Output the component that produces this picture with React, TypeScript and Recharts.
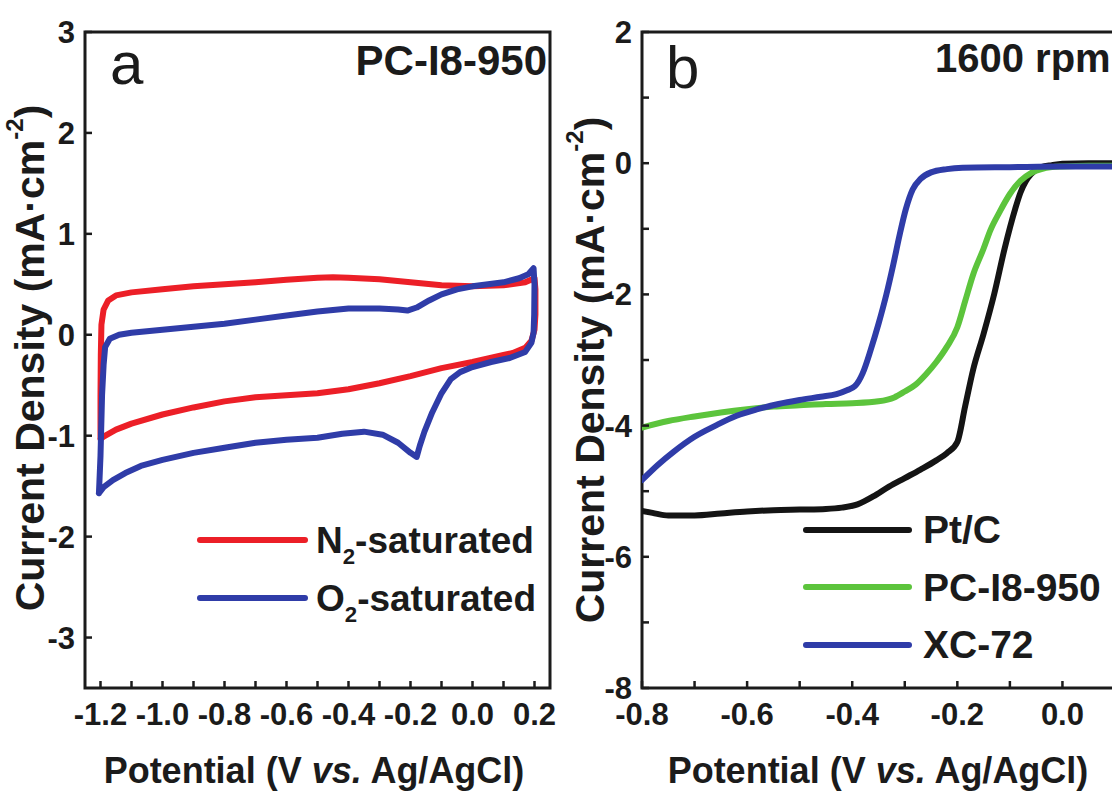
import React from 'react';
import { LineChart, Line, XAxis, YAxis, ReferenceArea, Legend } from 'recharts';

const FONT = '"Liberation Sans", Arial, Helvetica, sans-serif';
const INK = '#1b1b1b';

// ---- (a) CV in N2 / O2 saturated electrolyte ----
const cvXTicks = [-1.2, -1.1, -1.0, -0.9, -0.8, -0.7, -0.6, -0.5, -0.4, -0.3, -0.2, -0.1, 0.0, 0.1, 0.2];
const cvYTicks = [-3, -2, -1, 0, 1, 2, 3];

// [potential, current density], traced as a closed loop
const cvN2 = [
  [-1.2, -1.03], [-1.2, -0.6], [-1.199, -0.2], [-1.197, 0.1], [-1.19, 0.25], [-1.175, 0.34],
  [-1.15, 0.39], [-1.1, 0.42], [-1.0, 0.45], [-0.9, 0.48], [-0.8, 0.5], [-0.7, 0.52],
  [-0.6, 0.545], [-0.5, 0.565], [-0.45, 0.57], [-0.4, 0.565], [-0.3, 0.55], [-0.2, 0.52],
  [-0.1, 0.49], [0.0, 0.48], [0.1, 0.49], [0.17, 0.52], [0.2, 0.56], [0.203, 0.45],
  [0.203, 0.2], [0.2, 0.05], [0.19, -0.06], [0.17, -0.13], [0.13, -0.18], [0.1, -0.2],
  [0.0, -0.27], [-0.1, -0.33], [-0.2, -0.41], [-0.3, -0.48], [-0.4, -0.54], [-0.5, -0.58],
  [-0.6, -0.6], [-0.7, -0.62], [-0.8, -0.66], [-0.9, -0.72], [-1.0, -0.79], [-1.1, -0.88],
  [-1.15, -0.94], [-1.19, -1.01], [-1.2, -1.03],
];

const cvO2 = [
  [-1.205, -1.57], [-1.2, -1.2], [-1.195, -0.6], [-1.19, -0.3], [-1.185, -0.12], [-1.17, -0.04],
  [-1.14, 0.0], [-1.1, 0.02], [-1.0, 0.05], [-0.9, 0.08], [-0.8, 0.11], [-0.7, 0.15],
  [-0.6, 0.19], [-0.5, 0.23], [-0.4, 0.26], [-0.3, 0.26], [-0.24, 0.25], [-0.21, 0.24],
  [-0.18, 0.27], [-0.14, 0.34], [-0.1, 0.4], [-0.05, 0.45], [0.0, 0.48], [0.05, 0.5],
  [0.1, 0.52], [0.15, 0.56], [0.18, 0.6], [0.197, 0.66], [0.2, 0.5], [0.199, 0.2],
  [0.197, 0.02], [0.19, -0.08], [0.17, -0.17], [0.12, -0.23], [0.06, -0.27], [0.0, -0.32],
  [-0.04, -0.37], [-0.07, -0.44], [-0.1, -0.58], [-0.13, -0.77], [-0.155, -0.96], [-0.17, -1.1],
  [-0.18, -1.21], [-0.2, -1.17], [-0.24, -1.07], [-0.29, -0.99], [-0.35, -0.96], [-0.42, -0.98],
  [-0.5, -1.02], [-0.6, -1.04], [-0.7, -1.07], [-0.8, -1.12], [-0.9, -1.17], [-1.0, -1.24],
  [-1.07, -1.3], [-1.12, -1.37], [-1.16, -1.44], [-1.19, -1.51], [-1.205, -1.57],
];

// ---- (b) LSV at 1600 rpm ----
const lsvXTicks = [-0.8, -0.7, -0.6, -0.5, -0.4, -0.3, -0.2, -0.1, 0.0, 0.1];
const lsvYTicks = [-8, -7, -6, -5, -4, -3, -2, -1, 0, 1, 2];

const lsvPtC = [
  [-0.8, -5.3], [-0.78, -5.33], [-0.75, -5.37], [-0.7, -5.37], [-0.65, -5.34], [-0.6, -5.31],
  [-0.55, -5.29], [-0.5, -5.28], [-0.45, -5.27], [-0.42, -5.25], [-0.39, -5.2], [-0.36, -5.08],
  [-0.33, -4.93], [-0.3, -4.8], [-0.27, -4.67], [-0.24, -4.53], [-0.22, -4.42], [-0.2, -4.25],
  [-0.185, -3.7], [-0.17, -3.15], [-0.15, -2.6], [-0.13, -2.0], [-0.11, -1.3], [-0.09, -0.7],
  [-0.08, -0.45], [-0.07, -0.28], [-0.06, -0.17], [-0.05, -0.1], [-0.04, -0.06], [-0.02, -0.03],
  [0.0, -0.01], [0.05, 0.0], [0.1, 0.0],
];

const lsvPC = [
  [-0.8, -4.03], [-0.75, -3.93], [-0.7, -3.86], [-0.65, -3.8], [-0.6, -3.75], [-0.55, -3.71],
  [-0.5, -3.69], [-0.45, -3.67], [-0.4, -3.66], [-0.35, -3.63], [-0.32, -3.57], [-0.3, -3.48],
  [-0.28, -3.38], [-0.26, -3.22], [-0.24, -3.03], [-0.22, -2.8], [-0.2, -2.5], [-0.185, -2.1],
  [-0.17, -1.7], [-0.15, -1.3], [-0.137, -1.02], [-0.12, -0.75], [-0.1, -0.47], [-0.08, -0.27],
  [-0.06, -0.15], [-0.04, -0.09], [-0.02, -0.06], [0.0, -0.05], [0.05, -0.04], [0.1, -0.04],
];

const lsvXC = [
  [-0.8, -4.83], [-0.77, -4.6], [-0.74, -4.4], [-0.7, -4.17], [-0.66, -4.0], [-0.62, -3.85],
  [-0.58, -3.75], [-0.54, -3.67], [-0.5, -3.61], [-0.46, -3.56], [-0.43, -3.52], [-0.41, -3.46],
  [-0.395, -3.4], [-0.38, -3.2], [-0.365, -2.85], [-0.35, -2.45], [-0.335, -2.0], [-0.322, -1.55],
  [-0.31, -1.1], [-0.298, -0.7], [-0.285, -0.4], [-0.27, -0.24], [-0.25, -0.14], [-0.22, -0.09],
  [-0.19, -0.07], [-0.1, -0.06], [0.0, -0.05], [0.1, -0.05],
];

const RED = '#ec1f27';
const BLUE = '#2f3ca8';
const GREEN = '#5cc43c';
const BLACK = '#141414';

const cvSeries = [
  { name: 'N2-saturated', color: RED, points: cvN2 },
  { name: 'O2-saturated', color: BLUE, points: cvO2 },
];
const lsvSeries = [
  { name: 'Pt/C', color: BLACK, points: lsvPtC },
  { name: 'PC-I8-950', color: GREEN, points: lsvPC },
  { name: 'XC-72', color: BLUE, points: lsvXC },
];

const toPts = (pairs: number[][]) => pairs.map(([x, y]) => ({ x, y }));

const tickText = { fontSize: 31, fontWeight: 700, fill: INK, fontFamily: FONT };
const tickLine = { stroke: INK, strokeWidth: 2.5 };

const fmtTenths = (v: number) => (Math.round(v * 10) % 2 === 0 ? v.toFixed(1) : '');
const fmtEven = (v: number) => (Math.round(v) % 2 === 0 ? String(v) : '');

function XTitle({ x, y }: { x: number; y: number }) {
  return (
    <text x={x} y={y} textAnchor="middle" fontFamily={FONT} fontWeight={700} fontSize={36} fill={INK}>
      Potential (V{' '}
      <tspan fontStyle="italic">vs.</tspan> Ag/AgCl)
    </text>
  );
}

function YTitle({ x, y }: { x: number; y: number }) {
  return (
    <text
      x={x}
      y={y}
      transform={`rotate(-90 ${x} ${y})`}
      textAnchor="middle"
      dominantBaseline="central"
      fontFamily={FONT}
      fontWeight={700}
      fontSize={41}
      fill={INK}
    >
      Current Density (mA·cm
      <tspan dy={-16} fontSize={24}>-2</tspan>
      <tspan dy={16}>)</tspan>
    </text>
  );
}

function PanelTag({ letter, lx, ly, note, nx, ny, anchor, noteSize }: any) {
  return (
    <g fontFamily={FONT} fill={INK}>
      <text x={lx} y={ly} fontSize={60}>{letter}</text>
      <text x={nx} y={ny} fontSize={noteSize} fontWeight={700} textAnchor={anchor}>{note}</text>
    </g>
  );
}

// "N2-saturated" -> N with subscript 2
function seriesLabel(name: string) {
  const m = name.match(/^([A-Z])2(-.*)$/);
  if (!m) return name;
  return (
    <>
      {m[1]}
      <span style={{ fontSize: '0.6em', position: 'relative', top: '0.5em' }}>2</span>
      {m[2]}
    </>
  );
}

function makeLegend(order: string[], barWidth: number, gap: number, rowH: number, size: number) {
  return (props: any) => {
    const items = (props.payload || [])
      .slice()
      .sort((a: any, b: any) => order.indexOf(a.value) - order.indexOf(b.value));
    return (
      <div style={{ fontFamily: FONT, fontWeight: 700, fontSize: size, color: INK }}>
        {items.map((it: any) => (
          <div key={it.value} style={{ display: 'flex', alignItems: 'center', height: rowH, whiteSpace: 'nowrap' }}>
            <div style={{ width: barWidth, height: 6, borderRadius: 3, background: it.color, marginRight: gap }} />
            <span style={{ lineHeight: 1 }}>{seriesLabel(it.value)}</span>
          </div>
        ))}
      </div>
    );
  };
}

function CvPanel() {
  return (
    <LineChart width={560} height={791} margin={{ top: 32, right: 10, bottom: 43, left: 25 }}>
      <XAxis
        type="number"
        dataKey="x"
        domain={[-1.25, 0.25]}
        ticks={cvXTicks}
        interval={0}
        allowDataOverflow
        height={60}
        axisLine={false}
        tickSize={-7}
        tickMargin={22}
        tickLine={tickLine}
        tick={tickText}
        tickFormatter={fmtTenths}
        label={() => <XTitle x={314} y={783} />}
      />
      <YAxis
        type="number"
        dataKey="y"
        domain={[-3.5, 3]}
        ticks={cvYTicks}
        interval={0}
        allowDataOverflow
        width={60}
        axisLine={false}
        tickSize={-7}
        tickMargin={17}
        tickLine={tickLine}
        tick={tickText}
        label={() => <YTitle x={30} y={358} />}
      />
      <ReferenceArea
        x1={-1.25}
        x2={0.25}
        y1={-3.5}
        y2={3}
        fill="none"
        stroke={INK}
        strokeWidth={3}
        label={() => (
          <PanelTag letter="a" lx={110} ly={84} note="PC-I8-950" nx={547} ny={75} anchor="end" noteSize={42} />
        )}
      />
      <Legend
        layout="vertical"
        align="center"
        verticalAlign="middle"
        content={makeLegend(cvSeries.map((s) => s.name), 111, 8, 58, 37)}
        wrapperStyle={{ left: 197, top: 511, width: 360 }}
      />
      {cvSeries.map((s) => (
        <Line
          key={s.name}
          data={toPts(s.points)}
          dataKey="y"
          name={s.name}
          type="linear"
          stroke={s.color}
          strokeWidth={6}
          strokeLinejoin="round"
          strokeLinecap="round"
          dot={false}
          activeDot={false}
          isAnimationActive={false}
        />
      ))}
    </LineChart>
  );
}

function LsvPanel() {
  return (
    <LineChart width={600} height={791} margin={{ top: 32, right: 45, bottom: 43, left: 22 }}>
      <XAxis
        type="number"
        dataKey="x"
        domain={[-0.8, 0.1]}
        ticks={lsvXTicks}
        interval={0}
        allowDataOverflow
        height={60}
        axisLine={false}
        tickSize={-7}
        tickMargin={22}
        tickLine={tickLine}
        tick={tickText}
        tickFormatter={fmtTenths}
        label={() => <XTitle x={318} y={783} />}
      />
      <YAxis
        type="number"
        dataKey="y"
        domain={[-8, 2]}
        ticks={lsvYTicks}
        interval={0}
        allowDataOverflow
        width={60}
        axisLine={false}
        tickSize={-7}
        tickMargin={17}
        tickLine={tickLine}
        tick={tickText}
        tickFormatter={fmtEven}
        label={() => <YTitle x={30} y={370} />}
      />
      <ReferenceArea
        x1={-0.8}
        x2={0.1}
        y1={-8}
        y2={2}
        fill="none"
        stroke={INK}
        strokeWidth={3}
        label={() => (
          <PanelTag letter="b" lx={106} ly={88} note="1600 rpm" nx={375} ny={72} anchor="start" noteSize={40} />
        )}
      />
      <Legend
        layout="vertical"
        align="center"
        verticalAlign="middle"
        content={makeLegend(lsvSeries.map((s) => s.name), 109, 11, 57.5, 39)}
        wrapperStyle={{ left: 243, top: 501, width: 360 }}
      />
      {lsvSeries.map((s) => (
        <Line
          key={s.name}
          data={toPts(s.points)}
          dataKey="y"
          name={s.name}
          type="monotone"
          stroke={s.color}
          strokeWidth={6}
          strokeLinejoin="round"
          strokeLinecap="round"
          dot={false}
          activeDot={false}
          isAnimationActive={false}
        />
      ))}
    </LineChart>
  );
}

export default function App() {
  return (
    <div
      style={{
        position: 'fixed',
        left: 0,
        top: 0,
        width: 1112,
        height: 791,
        overflow: 'hidden',
        background: '#fff',
      }}
    >
      <div style={{ position: 'absolute', left: 0, top: 0 }}>
        <CvPanel />
      </div>
      <div style={{ position: 'absolute', left: 560, top: 0 }}>
        <LsvPanel />
      </div>
    </div>
  );
}
